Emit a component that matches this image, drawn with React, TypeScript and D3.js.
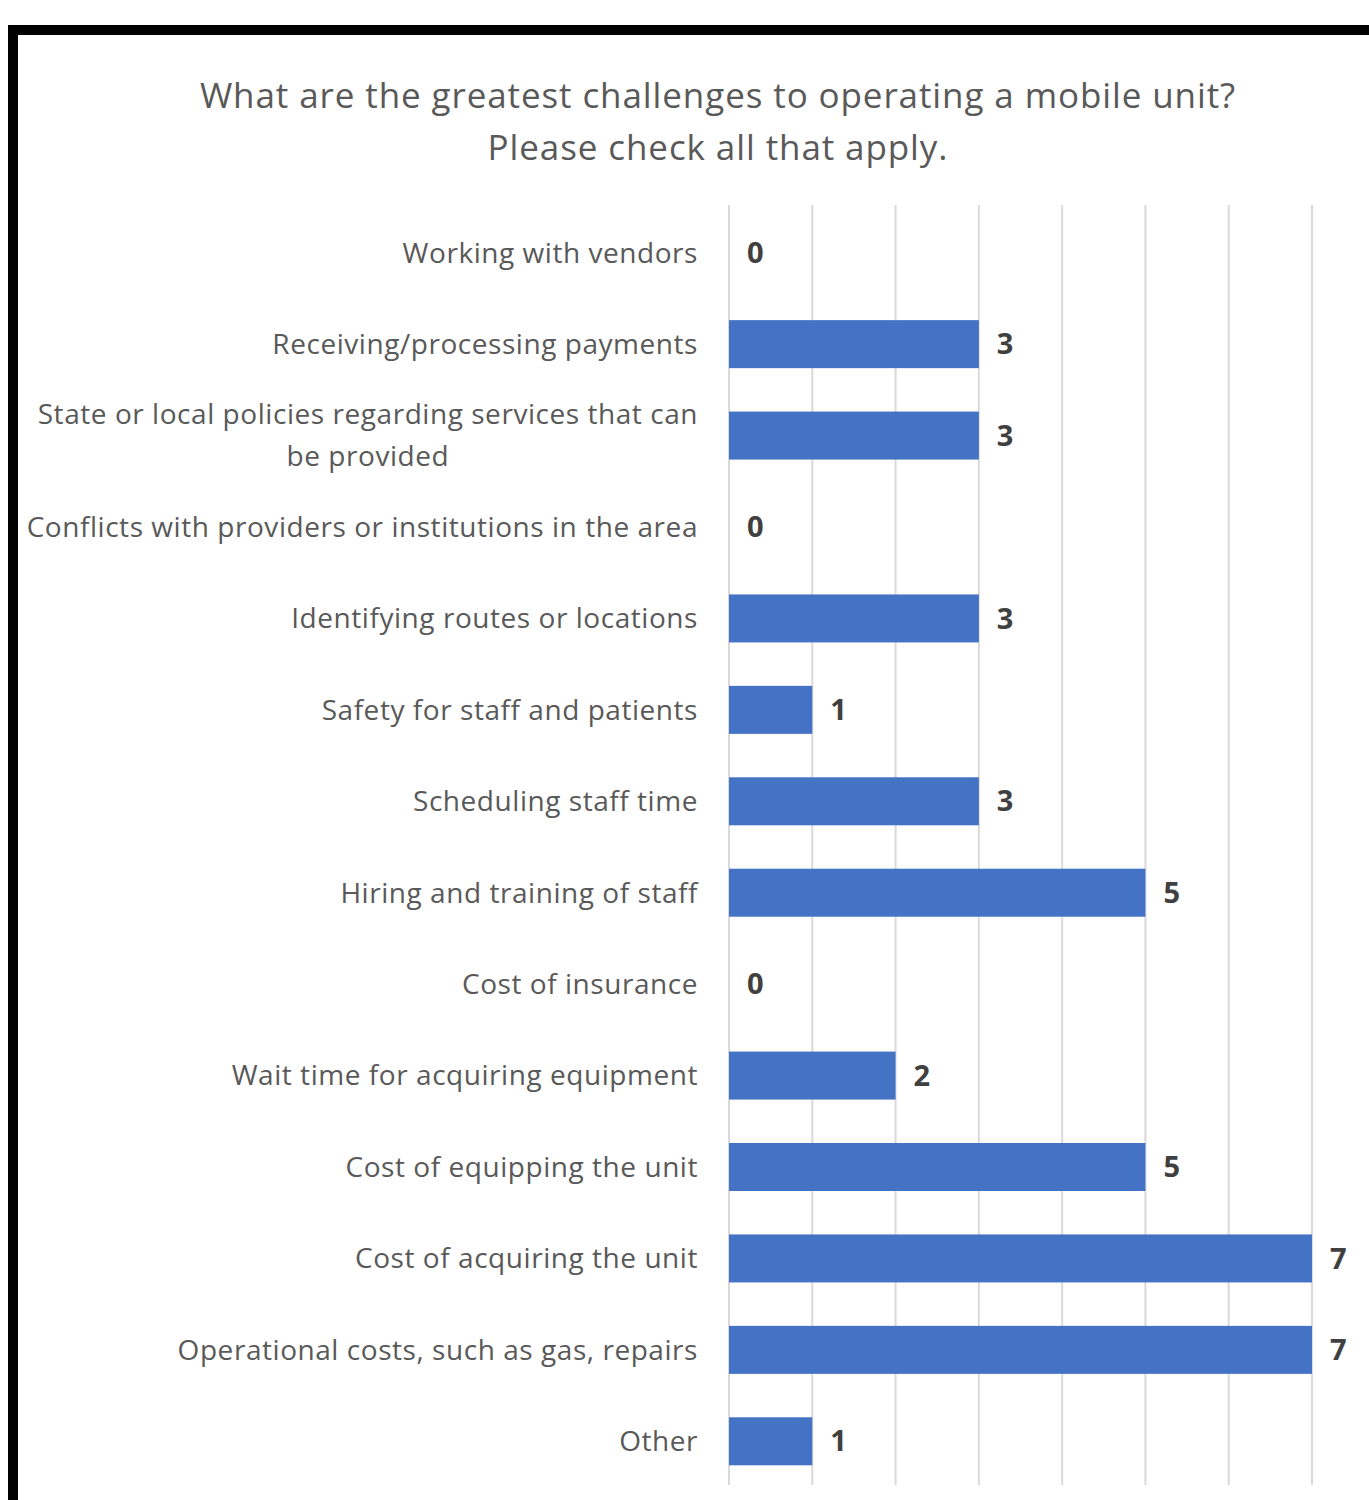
import React from "react";
import * as d3 from "d3";

const categories = [
  "Working with vendors",
  "Receiving/processing payments",
  "State or local policies regarding services that can be provided",
  "Conflicts with providers or institutions in the area",
  "Identifying routes or locations",
  "Safety for staff and patients",
  "Scheduling staff time",
  "Hiring and training of staff",
  "Cost of insurance",
  "Wait time for acquiring equipment",
  "Cost of equipping the unit",
  "Cost of acquiring the unit",
  "Operational costs, such as gas, repairs",
  "Other",
];
const values = [0, 3, 3, 0, 3, 1, 3, 5, 0, 2, 5, 7, 7, 1];
const gridTicks = [0, 1, 2, 3, 4, 5, 6, 7];
const titleLines = [
  "What are the greatest challenges to operating a mobile unit?",
  "Please check all that apply.",
];

const FONT = "'Open Sans', Lato, sans-serif";
const MAX_CHARS = 52;
const LABEL_SPACING = 0.55;

function wrap(text: string): string[] {
  if (text.length <= MAX_CHARS) return [text];
  const words = text.split(" ");
  const out: string[] = [];
  let line = "";
  for (const w of words) {
    const t = line ? line + " " + w : w;
    if (t.length > MAX_CHARS && line) {
      out.push(line);
      line = w;
    } else line = t;
  }
  out.push(line);
  return out;
}

function measure(text: string, size: number) {
  if (typeof document === "undefined") return text.length * size * 0.53;
  const c = document.createElement("canvas");
  const ctx = c.getContext("2d")!;
  ctx.font = `${size}px 'Open Sans'`;
  return ctx.measureText(text).width + text.length * LABEL_SPACING;
}

export default function App() {
  const W = 1369;
  const H = 1500;
  const x = d3.scaleLinear().domain([0, 7]).range([729, 1312]);
  const y = d3
    .scaleBand<string>()
    .domain(categories)
    .range([207, 1487])
    .paddingInner(0.475)
    .paddingOuter(0.2375);
  const labelSize = 28;
  const labelRight = 698;

  return (
    <svg
      width={W}
      height={H}
      style={{ position: "absolute", left: 0, top: 0, display: "block" }}
      fontFamily={FONT}
    >
      <rect x={0} y={0} width={W} height={H} fill="#fff" />
      <rect x={13} y={30} width={W + 20} height={H + 20} fill="none" stroke="#000" strokeWidth={10} />
      {titleLines.map((t, i) => (
        <text
          key={i}
          x={718}
          y={108 + i * 52}
          textAnchor="middle"
          fontSize={35}
          letterSpacing={0.9}
          fill="#595959"
        >
          {t}
        </text>
      ))}
      {gridTicks.map((t) => (
        <line
          key={t}
          x1={x(t)}
          x2={x(t)}
          y1={205}
          y2={1485}
          stroke="#d9d9d9"
          strokeWidth={2}
        />
      ))}
      {categories.map((c, i) => {
        const cy = (y(c) as number) + y.bandwidth() / 2;
        const lines = wrap(c);
        const lh = 42;
        const blockW = Math.max(...lines.map((l) => measure(l, labelSize)));
        const centerX = labelRight - blockW / 2;
        return (
          <g key={c}>
            {lines.map((l, j) => (
              <text
                key={j}
                x={lines.length > 1 ? centerX : labelRight}
                y={cy + (j - (lines.length - 1) / 2) * lh}
                dy="0.35em"
                textAnchor={lines.length > 1 ? "middle" : "end"}
                fontSize={labelSize}
                letterSpacing={LABEL_SPACING}
                fill="#595959"
              >
                {l}
              </text>
            ))}
            {values[i] > 0 && (
              <rect
                x={x(0)}
                y={y(c)}
                width={x(values[i]) - x(0)}
                height={y.bandwidth()}
                fill="#4472C4"
              />
            )}
            <text
              x={x(values[i]) + 18}
              y={cy}
              dy="0.35em"
              fontSize={29}
              fontWeight="bold"
              fill="#404040"
            >
              {values[i]}
            </text>
          </g>
        );
      })}
    </svg>
  );
}
